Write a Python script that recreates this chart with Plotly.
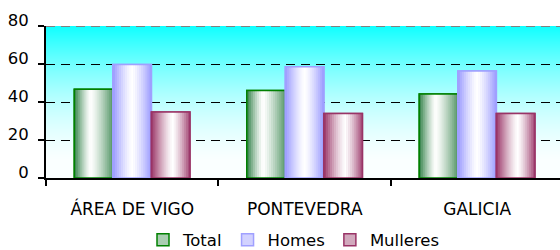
import base64, struct, zlib
import plotly.graph_objects as go

# ---- data ----
categories = ["ÁREA DE VIGO", "PONTEVEDRA", "GALICIA"]
total = [46.7, 46.0, 44.2]
homes = [59.7, 58.6, 56.3]
mulleres = [34.8, 34.0, 34.0]
series_names = ["Total", "Homes", "Mulleres"]
y_ticks = [0, 20, 40, 60, 80]

series_values = [total, homes, mulleres]
base_cols = [(47, 127, 69), (153, 153, 255), (153, 51, 102)]
edge_cols = ["#008000", "#a0a0ff", "#993366"]
legend_fill = ["#a9cdb1", "#d2d2ff", "#d1a9bd"]
peak = [0.42, 0.5, 0.55]
right_strength = [0.82, 1.0, 0.92]

FONT = "DejaVu Sans"


def png_gradient(h):
    rows = []
    for i in range(h):
        f = i / (h - 1)
        r = int(round(16 + 239 * (1 - (1 - f) ** 1.8)))
        r = min(r, 250)
        rows.append(b"\x00" + bytes([r, 255, 255, r, 255, 255]))
    raw = b"".join(rows)

    def chunk(tag, data):
        return (struct.pack(">I", len(data)) + tag + data +
                struct.pack(">I", zlib.crc32(tag + data) & 0xffffffff))
    ihdr = struct.pack(">IIBBBBB", 2, h, 8, 2, 0, 0, 0)
    png = (b"\x89PNG\r\n\x1a\n" + chunk(b"IHDR", ihdr) +
           chunk(b"IDAT", zlib.compress(raw)) + chunk(b"IEND", b""))
    return "data:image/png;base64," + base64.b64encode(png).decode()


def mix(c, a):
    return "rgb(%d,%d,%d)" % tuple(round(255 * (1 - a) + ch * a) for ch in c)


fig = go.Figure()

W = 0.2235
START = -0.336
N = 19

for s, (name, vals) in enumerate(zip(series_names, series_values)):
    off0 = START + s * W
    # legend carrier (under the gradient)
    fig.add_trace(go.Bar(
        x=categories, y=vals, name=name, offset=off0, width=W,
        marker=dict(color=legend_fill[s], line=dict(color=edge_cols[s], width=1.5)),
        showlegend=True, hoverinfo="skip"))
    c = peak[s]
    for k in range(N):
        t = (k + 0.5) / N
        if t < c:
            a = ((c - t) / c) ** 1.3
        else:
            a = right_strength[s] * ((t - c) / (1 - c)) ** 1.3
        wk = W / N + (0.003 if k < N - 1 else 0)
        fig.add_trace(go.Bar(
            x=categories, y=vals, offset=off0 + k * W / N, width=wk,
            marker=dict(color=mix(base_cols[s], a), line=dict(width=0)),
            showlegend=False, hoverinfo="skip"))
    fig.add_trace(go.Bar(
        x=categories, y=vals, offset=off0, width=W,
        marker=dict(color="rgba(0,0,0,0)", line=dict(color=edge_cols[s], width=1.5)),
        showlegend=False, hoverinfo="skip"))

fig.update_layout(
    width=560, height=250,
    margin=dict(l=46, r=0, t=26, b=72, autoexpand=False),
    barmode="overlay",
    paper_bgcolor="white",
    plot_bgcolor="white",
    font=dict(family=FONT, size=16, color="black"),
    images=[dict(source=png_gradient(152), xref="paper", yref="paper",
                 x=0, y=1, sizex=1, sizey=1, xanchor="left", yanchor="top",
                 sizing="stretch", layer="below")],
    legend=dict(orientation="h", xref="container", yref="container",
                x=0.525, xanchor="center", y=0.04, yanchor="middle",
                font=dict(size=16.5), bgcolor="rgba(0,0,0,0)",
                traceorder="normal", borderwidth=0),
    shapes=[dict(type="line", xref="paper", yref="y", x0=0, x1=1, y0=80, y1=80,
                 line=dict(color="#808080", width=2, dash="9px,6px"), layer="above")],
)

fig.update_xaxes(
    type="category", range=[-0.5, 2.48], automargin=False,
    showline=True, linecolor="black", linewidth=2,
    ticks="outside", tickson="boundaries", ticklen=6, tickwidth=1.5, tickcolor="black",
    showgrid=False, tickfont=dict(size=17), ticklabelstandoff=15,
)
fig.update_yaxes(
    range=[0, 80], tickvals=y_ticks, automargin=False,
    showline=True, linecolor="black", linewidth=2,
    ticks="outside", ticklen=6, tickwidth=1.5, tickcolor="black",
    showgrid=True, gridcolor="black", gridwidth=1.2, griddash="9px,6px",
    zeroline=False, tickfont=dict(size=16.5), ticklabelstandoff=6,
    ticklabelshift=-6,
)

fig.write_html(
    "out.html",
    config={"displayModeBar": False},
    post_script="document.body.style.margin='0';document.body.style.overflow='hidden';",
)
